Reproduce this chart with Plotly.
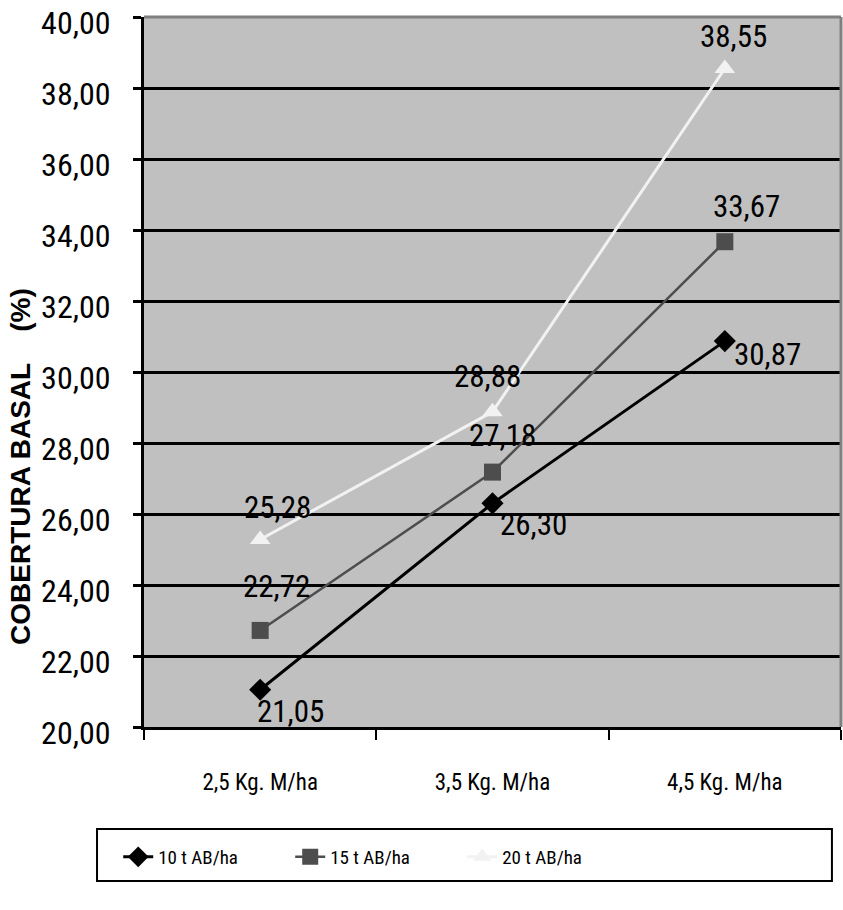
import plotly.graph_objects as go

categories = ["2,5 Kg. M/ha", "3,5 Kg. M/ha", "4,5 Kg. M/ha"]
series_names = ["10 t AB/ha", "15 t AB/ha", "20 t AB/ha"]
s10 = [21.05, 26.30, 30.87]
s15 = [22.72, 27.18, 33.67]
s20 = [25.28, 28.88, 38.55]
y_ticks = [20, 22, 24, 26, 28, 30, 32, 34, 36, 38, 40]

values = [s10, s15, s20]
colors = ["#000000", "#4D4D4D", "#F2F2F2"]
symbols = ["diamond", "square", "triangle-up"]
msizes = [17, 17, 18]
lwidths = [3, 2.5, 3]
# label offsets (px) relative to each point: (dx, dy-down)
label_offsets = [
    [(30, 22), (41, 21), (43, 13)],
    [(16, -44), (10, -37), (22, -35)],
    [(17, -32), (-5, -35), (9, -32)],
]

NARROW = "Liberation Sans Narrow, Arial Narrow, Roboto Condensed, Liberation Sans, Arial, sans-serif"

fig = go.Figure()
annotations = []
for name, vals, c, sym, ms, lw, offs in zip(series_names, values, colors, symbols, msizes, lwidths, label_offsets):
    fig.add_trace(go.Scatter(
        x=categories, y=vals, name=name, mode="lines+markers",
        line=dict(color=c, width=lw),
        marker=dict(symbol=sym, size=ms, color=c, line=dict(width=0)),
    ))
    for cat, v, (dx, dy) in zip(categories, vals, offs):
        annotations.append(dict(
            x=cat, y=v, xref="x", yref="y", text=f"{v:.2f}".replace(".", ","),
            showarrow=False, xanchor="center", yanchor="middle",
            xshift=dx, yshift=-dy, font=dict(family=NARROW, size=31, color="#000000"),
        ))

# y-axis title
annotations.append(dict(
    x=-0.178, y=0.3676, xref="paper", yref="paper",
    text="COBERTURA BASAL\u00a0\u00a0\u00a0\u00a0(%)", textangle=-90,
    showarrow=False, xanchor="center", yanchor="middle",
    font=dict(family="Liberation Sans, Arial, sans-serif", size=28, color="#000000", weight="bold"),
))

shapes = [
    # top and right plot-area border (gray)
    dict(type="line", xref="paper", yref="paper", x0=0, x1=1, y0=1, y1=1,
         line=dict(color="#808080", width=3), layer="above"),
    dict(type="line", xref="paper", yref="paper", x0=1, x1=1, y0=0, y1=1,
         line=dict(color="#808080", width=3), layer="above"),
    # legend frame
    dict(type="rect", xref="paper", yref="paper", x0=-0.0674, x1=0.987, y0=-0.2169, y1=-0.1437,
         line=dict(color="#000000", width=2), fillcolor="rgba(0,0,0,0)"),
]

fig.update_layout(
    width=843, height=910,
    margin=dict(l=144, r=2, t=17, b=183, autoexpand=False),
    paper_bgcolor="#FFFFFF",
    plot_bgcolor="#C0C0C0",
    separators=",.",
    showlegend=True,
    legend=dict(
        orientation="h", x=-0.037, xanchor="left", y=-0.183, yanchor="middle",
        font=dict(family=NARROW, size=19, color="#000000"),
        bgcolor="rgba(0,0,0,0)", borderwidth=0,
        entrywidth=127, entrywidthmode="pixels", itemwidth=30,
    ),
    annotations=annotations,
    shapes=shapes,
    xaxis=dict(
        type="category", range=[-0.5, 2.5], tickson="boundaries", automargin=False,
        showgrid=False, zeroline=False,
        showline=True, linecolor="#000000", linewidth=3,
        ticks="outside", ticklen=10, tickwidth=2, tickcolor="#000000",
        ticklabelstandoff=32,
        tickfont=dict(family=NARROW, size=23, color="#000000"),
    ),
    yaxis=dict(
        range=[20, 40], tickvals=y_ticks, tickformat=".2f", automargin=False,
        showgrid=True, gridcolor="#000000", gridwidth=3,
        zeroline=False,
        showline=True, linecolor="#000000", linewidth=3,
        ticks="outside", ticklen=8, tickwidth=3, tickcolor="#000000",
        ticklabelstandoff=16, ticklabelshift=6, ticklabeloverflow="allow",
        tickfont=dict(family=NARROW, size=32, color="#000000"),
    ),
)

fig.write_html("out.html")
